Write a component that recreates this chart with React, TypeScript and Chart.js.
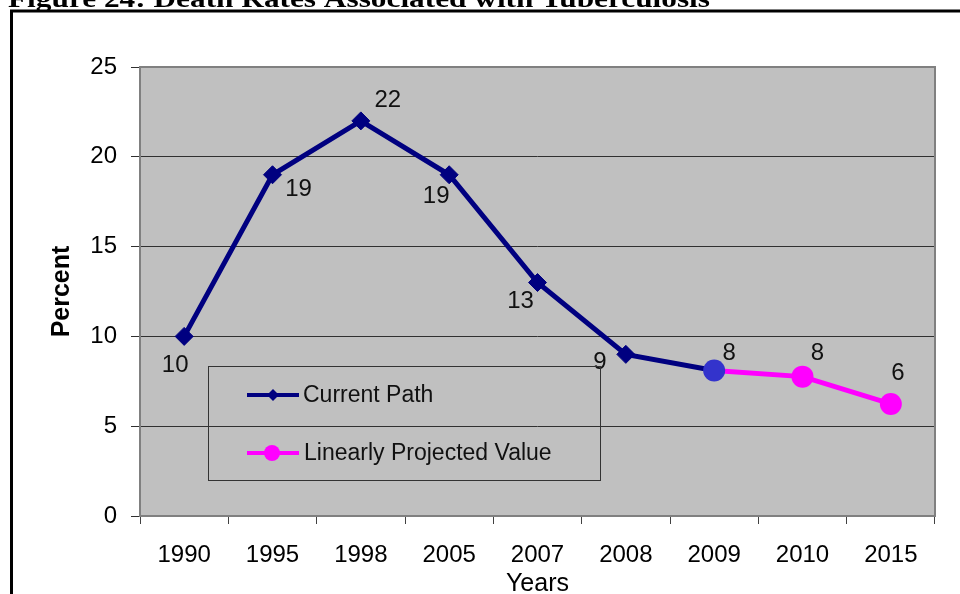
import React, { useEffect, useRef } from "react";
import { Chart, registerables } from "chart.js";

Chart.register(...registerables);

const categories = ["1990", "1995", "1998", "2005", "2007", "2008", "2009", "2010", "2015"];
const currentPath: (number | null)[] = [10, 19, 22, 19, 13, 9, 8.1, null, null];
const projected: (number | null)[] = [null, null, null, null, null, null, 8.1, 7.76, 6.24];
const yTicks = [0, 5, 10, 15, 20, 25];
const seriesNames = ["Current Path", "Linearly Projected Value"];
const titleText = "Figure 24: Death Rates Associated with Tuberculosis";
const xTitle = "Years";
const yTitle = "Percent";

// label placement offsets (style only)
const labelOffsets: [number, number][] = [
  [-9, 29], [26, 15], [27, -21], [-13, 22], [-17, 19], [-26, 8], [15, -17], [15, -23], [7, -31],
];

const SANS = '"Liberation Sans", Arial, sans-serif';
const SERIF = '"Liberation Serif", "Times New Roman", serif';
const NAVY = "#000080";
const PINK = "#FF00FF";
const BLUE_PT = "#3333CC";
const PLOT_BG = "#C0C0C0";

const decorPlugin = {
  id: "decor",
  beforeDraw(chart: any) {
    const { ctx, chartArea: ca, width, height } = chart;
    ctx.save();
    ctx.fillStyle = "#FFFFFF";
    ctx.fillRect(0, 0, width, height);
    ctx.fillStyle = PLOT_BG;
    ctx.fillRect(ca.left, ca.top, ca.right - ca.left, ca.bottom - ca.top);
    // title (cropped at top)
    ctx.font = "bold 26px " + SERIF;
    ctx.fillStyle = "#000";
    ctx.textBaseline = "alphabetic";
    ctx.textAlign = "left";
    const m = ctx.measureText(titleText).width;
    ctx.save();
    ctx.translate(8, 7);
    ctx.scale(702 / m, 1);
    ctx.fillText(titleText, 0, 0);
    ctx.restore();
    // frame
    ctx.strokeStyle = "#000";
    ctx.lineWidth = 3;
    ctx.beginPath();
    ctx.moveTo(11.5, height);
    ctx.lineTo(11.5, 11);
    ctx.lineTo(width, 11);
    ctx.stroke();
    ctx.restore();
  },
  beforeDatasetsDraw(chart: any) {
    const { ctx, chartArea: ca } = chart;
    ctx.save();
    ctx.strokeStyle = "#808080";
    ctx.lineWidth = 2;
    ctx.strokeRect(ca.left, ca.top, ca.right - ca.left, ca.bottom - ca.top);
    ctx.restore();
  },
  afterDatasetsDraw(chart: any) {
    const { ctx } = chart;
    const metaCur = chart.getDatasetMeta(0);
    const metaPro = chart.getDatasetMeta(1);
    ctx.save();
    ctx.font = "24px " + SANS;
    ctx.fillStyle = "#111";
    ctx.textAlign = "center";
    ctx.textBaseline = "middle";
    categories.forEach((_, i) => {
      const useP = projected[i] != null;
      const v = useP ? projected[i] : currentPath[i];
      if (v == null) return;
      const el = (useP ? metaPro : metaCur).data[i];
      const [dx, dy] = labelOffsets[i];
      ctx.fillText(String(Math.round(v)), el.x + dx, el.y + dy);
    });
    ctx.restore();
  },
  afterDraw(chart: any) {
    const { ctx, chartArea: ca } = chart;
    ctx.save();
    // axis titles
    ctx.fillStyle = "#000";
    ctx.font = "bold 25px " + SANS;
    ctx.textAlign = "center";
    ctx.textBaseline = "middle";
    ctx.save();
    ctx.translate(62, (ca.top + ca.bottom) / 2);
    ctx.rotate(-Math.PI / 2);
    ctx.fillText(yTitle, 0, 0);
    ctx.restore();
    ctx.font = "25px " + SANS;
    ctx.textBaseline = "alphabetic";
    ctx.fillText(xTitle, (ca.left + ca.right) / 2, 591);

    // legend
    const lx = ca.left + 68;
    const ly = ca.top + 299;
    const w = 392;
    const h = 114;
    ctx.strokeStyle = "#333";
    ctx.lineWidth = 1;
    ctx.strokeRect(lx + 0.5, ly + 0.5, w, h);
    const y1 = ly + 29;
    const y2 = ly + 87;
    ctx.lineWidth = 4;
    ctx.strokeStyle = NAVY;
    ctx.beginPath();
    ctx.moveTo(lx + 39, y1);
    ctx.lineTo(lx + 91, y1);
    ctx.stroke();
    ctx.fillStyle = NAVY;
    const r = 6;
    const cx = lx + 65;
    ctx.beginPath();
    ctx.moveTo(cx - r, y1);
    ctx.lineTo(cx, y1 - r);
    ctx.lineTo(cx + r, y1);
    ctx.lineTo(cx, y1 + r);
    ctx.closePath();
    ctx.fill();
    ctx.strokeStyle = PINK;
    ctx.beginPath();
    ctx.moveTo(lx + 39, y2);
    ctx.lineTo(lx + 91, y2);
    ctx.stroke();
    ctx.fillStyle = PINK;
    ctx.beginPath();
    ctx.arc(lx + 64, y2, 8, 0, Math.PI * 2);
    ctx.fill();
    ctx.fillStyle = "#111";
    ctx.font = "23px " + SANS;
    ctx.textAlign = "left";
    ctx.textBaseline = "middle";
    ctx.fillText(seriesNames[0], lx + 95, y1 + 1);
    ctx.fillText(seriesNames[1], lx + 96, y2 + 1);
    ctx.restore();
  },
};

export default function App() {
  const ref = useRef<HTMLCanvasElement | null>(null);
  useEffect(() => {
    if (!ref.current) return;
    Chart.defaults.font.family = SANS;
    const chart = new Chart(ref.current, {
      type: "line",
      data: {
        labels: categories,
        datasets: [
          {
            label: seriesNames[0],
            data: currentPath,
            borderColor: NAVY,
            backgroundColor: NAVY,
            borderWidth: 5,
            pointStyle: "rectRot",
            pointRadius: 9,
            pointBorderWidth: 1,
            pointBackgroundColor: NAVY,
            pointBorderColor: NAVY,
            tension: 0,
            fill: false,
            order: 2,
          },
          {
            label: seriesNames[1],
            data: projected,
            borderColor: PINK,
            backgroundColor: PINK,
            borderWidth: 5,
            pointStyle: "circle",
            pointRadius: 11,
            pointBorderWidth: 0,
            pointBackgroundColor: [PINK, PINK, PINK, PINK, PINK, PINK, BLUE_PT, PINK, PINK],
            pointBorderColor: [PINK, PINK, PINK, PINK, PINK, PINK, BLUE_PT, PINK, PINK],
            tension: 0,
            fill: false,
            order: 1,
          },
        ],
      },
      options: {
        responsive: false,
        animation: false,
        devicePixelRatio: 1,
        layout: { padding: { top: 67, right: 25, left: 0, bottom: 0 } },
        plugins: {
          legend: { display: false },
          tooltip: { enabled: false },
          title: { display: false },
        },
        scales: {
          x: {
            type: "category",
            offset: true,
            grid: {
              offset: true,
              drawOnChartArea: false,
              drawTicks: true,
              tickLength: 8,
              color: "#404040",
              lineWidth: 1,
            },
            border: { display: false },
            ticks: {
              color: "#000",
              font: { size: 24, family: SANS },
              padding: 17,
              maxRotation: 0,
              autoSkip: false,
            },
            afterFit: (s: any) => {
              s.height = 78;
            },
          },
          y: {
            min: 0,
            max: 25,
            afterBuildTicks: (s: any) => {
              s.ticks = yTicks.map((v) => ({ value: v }));
            },
            grid: {
              color: "#303030",
              lineWidth: 1,
              tickLength: 9,
              drawTicks: true,
            },
            border: { display: false },
            ticks: {
              color: "#000",
              font: { size: 24, family: SANS },
              padding: 14,
            },
            afterFit: (s: any) => {
              s.width = 140;
            },
          },
        },
      },
      plugins: [decorPlugin],
    });
    return () => chart.destroy();
  }, []);
  return (
    <canvas
      ref={ref}
      width={960}
      height={594}
      style={{ position: "absolute", left: 0, top: 0, width: 960, height: 594 }}
    />
  );
}
